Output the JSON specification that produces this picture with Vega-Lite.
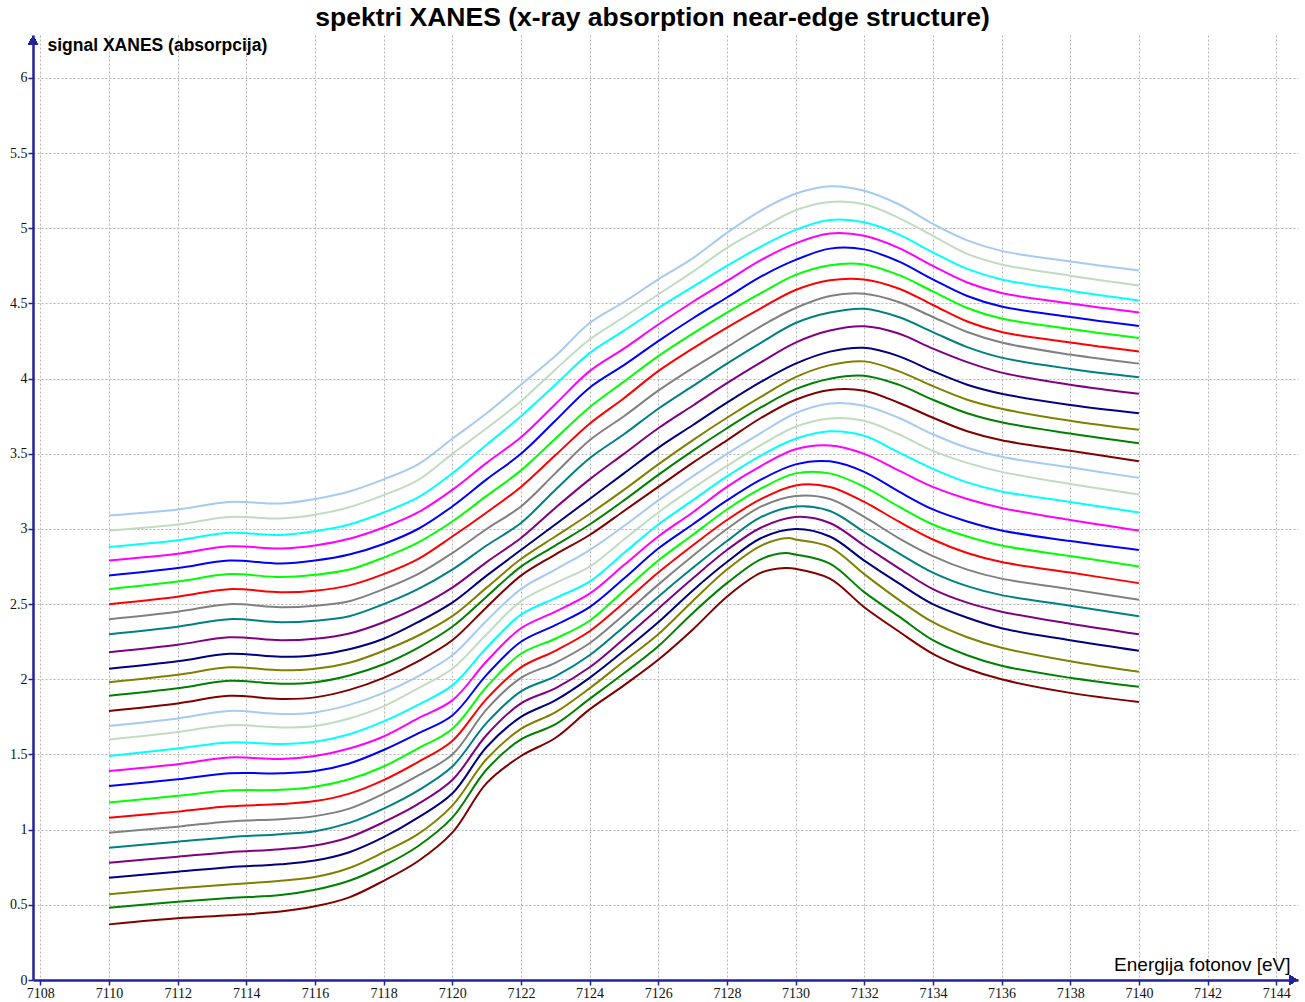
{
"$schema": "https://vega.github.io/schema/vega-lite/v6.json",
"width": 1265, "height": 945,
"autosize": {"type": "none"},
"padding": {"left": 33, "top": 35, "right": 7, "bottom": 22},
"background": "white",
"title": {"text": "spektri XANES (x-ray absorption near-edge structure)", "font": "Liberation Sans", "fontSize": 26.5, "fontWeight": "bold", "color": "black", "anchor": "middle", "frame": "group", "baseline": "alphabetic", "offset": 8, "dx": -13, "dy": 25},
"config": {"view": {"stroke": null}},
"data": {"values": [
{"k":0,"e":7110,"v":0.37},{"k":0,"e":7112,"v":0.41},{"k":0,"e":7113.5,"v":0.43},{"k":0,"e":7115,"v":0.455},{"k":0,"e":7116,"v":0.49},{"k":0,"e":7117,"v":0.55},{"k":0,"e":7118,"v":0.66},{"k":0,"e":7119,"v":0.79},{"k":0,"e":7120,"v":0.98},{"k":0,"e":7121,"v":1.31},{"k":0,"e":7122,"v":1.49},{"k":0,"e":7123,"v":1.61},{"k":0,"e":7124,"v":1.8},{"k":0,"e":7125,"v":1.96},{"k":0,"e":7126,"v":2.13},{"k":0,"e":7127,"v":2.33},{"k":0,"e":7128,"v":2.55},{"k":0,"e":7129,"v":2.71},{"k":0,"e":7129.7,"v":2.74},{"k":0,"e":7130,"v":2.735},{"k":0,"e":7131,"v":2.67},{"k":0,"e":7132,"v":2.48},{"k":0,"e":7133,"v":2.32},{"k":0,"e":7134,"v":2.17},{"k":0,"e":7135,"v":2.07},{"k":0,"e":7136,"v":2.0},{"k":0,"e":7138,"v":1.91},{"k":0,"e":7140,"v":1.85},
{"k":1,"e":7110,"v":0.48},{"k":1,"e":7112,"v":0.52},{"k":1,"e":7113.5,"v":0.545},{"k":1,"e":7115,"v":0.565},{"k":1,"e":7116,"v":0.6},{"k":1,"e":7117,"v":0.66},{"k":1,"e":7118,"v":0.76},{"k":1,"e":7119,"v":0.89},{"k":1,"e":7120,"v":1.08},{"k":1,"e":7121,"v":1.4},{"k":1,"e":7122,"v":1.6},{"k":1,"e":7123,"v":1.7},{"k":1,"e":7124,"v":1.87},{"k":1,"e":7125,"v":2.04},{"k":1,"e":7126,"v":2.22},{"k":1,"e":7127,"v":2.44},{"k":1,"e":7128,"v":2.64},{"k":1,"e":7129,"v":2.8},{"k":1,"e":7129.7,"v":2.84},{"k":1,"e":7130,"v":2.83},{"k":1,"e":7131,"v":2.77},{"k":1,"e":7132,"v":2.58},{"k":1,"e":7133,"v":2.42},{"k":1,"e":7134,"v":2.26},{"k":1,"e":7135,"v":2.16},{"k":1,"e":7136,"v":2.09},{"k":1,"e":7138,"v":2.01},{"k":1,"e":7140,"v":1.95},
{"k":2,"e":7110,"v":0.57},{"k":2,"e":7112,"v":0.61},{"k":2,"e":7113.5,"v":0.635},{"k":2,"e":7115,"v":0.66},{"k":2,"e":7116,"v":0.685},{"k":2,"e":7117,"v":0.745},{"k":2,"e":7118,"v":0.85},{"k":2,"e":7119,"v":0.97},{"k":2,"e":7120,"v":1.16},{"k":2,"e":7121,"v":1.47},{"k":2,"e":7122,"v":1.67},{"k":2,"e":7123,"v":1.78},{"k":2,"e":7124,"v":1.94},{"k":2,"e":7125,"v":2.12},{"k":2,"e":7126,"v":2.3},{"k":2,"e":7127,"v":2.52},{"k":2,"e":7128,"v":2.73},{"k":2,"e":7129,"v":2.89},{"k":2,"e":7129.8,"v":2.94},{"k":2,"e":7130,"v":2.93},{"k":2,"e":7131,"v":2.88},{"k":2,"e":7132,"v":2.7},{"k":2,"e":7133,"v":2.53},{"k":2,"e":7134,"v":2.38},{"k":2,"e":7135,"v":2.28},{"k":2,"e":7136,"v":2.21},{"k":2,"e":7138,"v":2.12},{"k":2,"e":7140,"v":2.05},
{"k":3,"e":7110,"v":0.68},{"k":3,"e":7112,"v":0.72},{"k":3,"e":7113.5,"v":0.75},{"k":3,"e":7115,"v":0.77},{"k":3,"e":7116,"v":0.795},{"k":3,"e":7117,"v":0.85},{"k":3,"e":7118,"v":0.95},{"k":3,"e":7119,"v":1.08},{"k":3,"e":7120,"v":1.24},{"k":3,"e":7121,"v":1.55},{"k":3,"e":7122,"v":1.75},{"k":3,"e":7123,"v":1.86},{"k":3,"e":7124,"v":2.01},{"k":3,"e":7125,"v":2.19},{"k":3,"e":7126,"v":2.38},{"k":3,"e":7127,"v":2.59},{"k":3,"e":7128,"v":2.78},{"k":3,"e":7129,"v":2.94},{"k":3,"e":7130,"v":3.0},{"k":3,"e":7131,"v":2.95},{"k":3,"e":7132,"v":2.79},{"k":3,"e":7133,"v":2.64},{"k":3,"e":7134,"v":2.5},{"k":3,"e":7135,"v":2.41},{"k":3,"e":7136,"v":2.34},{"k":3,"e":7138,"v":2.26},{"k":3,"e":7140,"v":2.19},
{"k":4,"e":7110,"v":0.78},{"k":4,"e":7112,"v":0.82},{"k":4,"e":7113.5,"v":0.85},{"k":4,"e":7115,"v":0.87},{"k":4,"e":7116,"v":0.895},{"k":4,"e":7117,"v":0.95},{"k":4,"e":7118,"v":1.05},{"k":4,"e":7119,"v":1.17},{"k":4,"e":7120,"v":1.33},{"k":4,"e":7121,"v":1.63},{"k":4,"e":7122,"v":1.84},{"k":4,"e":7123,"v":1.94},{"k":4,"e":7124,"v":2.08},{"k":4,"e":7125,"v":2.27},{"k":4,"e":7126,"v":2.47},{"k":4,"e":7127,"v":2.67},{"k":4,"e":7128,"v":2.86},{"k":4,"e":7129,"v":3.01},{"k":4,"e":7130,"v":3.08},{"k":4,"e":7131,"v":3.04},{"k":4,"e":7132,"v":2.89},{"k":4,"e":7133,"v":2.74},{"k":4,"e":7134,"v":2.6},{"k":4,"e":7135,"v":2.51},{"k":4,"e":7136,"v":2.45},{"k":4,"e":7138,"v":2.37},{"k":4,"e":7140,"v":2.3},
{"k":5,"e":7110,"v":0.88},{"k":5,"e":7112,"v":0.92},{"k":5,"e":7113.5,"v":0.95},{"k":5,"e":7115,"v":0.97},{"k":5,"e":7116,"v":0.99},{"k":5,"e":7117,"v":1.045},{"k":5,"e":7118,"v":1.14},{"k":5,"e":7119,"v":1.26},{"k":5,"e":7120,"v":1.42},{"k":5,"e":7121,"v":1.71},{"k":5,"e":7122,"v":1.92},{"k":5,"e":7123,"v":2.02},{"k":5,"e":7124,"v":2.16},{"k":5,"e":7125,"v":2.35},{"k":5,"e":7126,"v":2.55},{"k":5,"e":7127,"v":2.74},{"k":5,"e":7128,"v":2.92},{"k":5,"e":7129,"v":3.08},{"k":5,"e":7130,"v":3.15},{"k":5,"e":7131,"v":3.12},{"k":5,"e":7132,"v":2.98},{"k":5,"e":7133,"v":2.84},{"k":5,"e":7134,"v":2.71},{"k":5,"e":7135,"v":2.62},{"k":5,"e":7136,"v":2.56},{"k":5,"e":7138,"v":2.49},{"k":5,"e":7140,"v":2.42},
{"k":6,"e":7110,"v":0.98},{"k":6,"e":7112,"v":1.02},{"k":6,"e":7113.5,"v":1.055},{"k":6,"e":7115,"v":1.07},{"k":6,"e":7116,"v":1.09},{"k":6,"e":7117,"v":1.14},{"k":6,"e":7118,"v":1.24},{"k":6,"e":7119,"v":1.36},{"k":6,"e":7120,"v":1.5},{"k":6,"e":7121,"v":1.8},{"k":6,"e":7122,"v":2.01},{"k":6,"e":7123,"v":2.11},{"k":6,"e":7124,"v":2.24},{"k":6,"e":7125,"v":2.43},{"k":6,"e":7126,"v":2.63},{"k":6,"e":7127,"v":2.82},{"k":6,"e":7128,"v":3.0},{"k":6,"e":7129,"v":3.15},{"k":6,"e":7130,"v":3.22},{"k":6,"e":7131,"v":3.2},{"k":6,"e":7132,"v":3.08},{"k":6,"e":7133,"v":2.94},{"k":6,"e":7134,"v":2.82},{"k":6,"e":7135,"v":2.73},{"k":6,"e":7136,"v":2.67},{"k":6,"e":7138,"v":2.6},{"k":6,"e":7140,"v":2.53},
{"k":7,"e":7110,"v":1.08},{"k":7,"e":7112,"v":1.12},{"k":7,"e":7113.5,"v":1.155},{"k":7,"e":7115,"v":1.17},{"k":7,"e":7116,"v":1.19},{"k":7,"e":7117,"v":1.24},{"k":7,"e":7118,"v":1.33},{"k":7,"e":7119,"v":1.45},{"k":7,"e":7120,"v":1.59},{"k":7,"e":7121,"v":1.87},{"k":7,"e":7122,"v":2.08},{"k":7,"e":7123,"v":2.19},{"k":7,"e":7124,"v":2.32},{"k":7,"e":7125,"v":2.51},{"k":7,"e":7126,"v":2.71},{"k":7,"e":7127,"v":2.89},{"k":7,"e":7128,"v":3.06},{"k":7,"e":7129,"v":3.2},{"k":7,"e":7130,"v":3.29},{"k":7,"e":7131,"v":3.28},{"k":7,"e":7132,"v":3.18},{"k":7,"e":7133,"v":3.05},{"k":7,"e":7134,"v":2.93},{"k":7,"e":7135,"v":2.84},{"k":7,"e":7136,"v":2.78},{"k":7,"e":7138,"v":2.71},{"k":7,"e":7140,"v":2.64},
{"k":8,"e":7110,"v":1.18},{"k":8,"e":7112,"v":1.225},{"k":8,"e":7113.5,"v":1.26},{"k":8,"e":7115,"v":1.265},{"k":8,"e":7116,"v":1.285},{"k":8,"e":7117,"v":1.335},{"k":8,"e":7118,"v":1.42},{"k":8,"e":7119,"v":1.54},{"k":8,"e":7120,"v":1.67},{"k":8,"e":7121,"v":1.95},{"k":8,"e":7122,"v":2.17},{"k":8,"e":7123,"v":2.27},{"k":8,"e":7124,"v":2.39},{"k":8,"e":7125,"v":2.59},{"k":8,"e":7126,"v":2.79},{"k":8,"e":7127,"v":2.96},{"k":8,"e":7128,"v":3.13},{"k":8,"e":7129,"v":3.27},{"k":8,"e":7130,"v":3.37},{"k":8,"e":7131,"v":3.37},{"k":8,"e":7132,"v":3.28},{"k":8,"e":7133,"v":3.15},{"k":8,"e":7134,"v":3.03},{"k":8,"e":7135,"v":2.95},{"k":8,"e":7136,"v":2.89},{"k":8,"e":7138,"v":2.82},{"k":8,"e":7140,"v":2.75},
{"k":9,"e":7110,"v":1.29},{"k":9,"e":7112,"v":1.335},{"k":9,"e":7113.5,"v":1.375},{"k":9,"e":7115,"v":1.375},{"k":9,"e":7116,"v":1.39},{"k":9,"e":7117,"v":1.44},{"k":9,"e":7118,"v":1.53},{"k":9,"e":7119,"v":1.64},{"k":9,"e":7120,"v":1.76},{"k":9,"e":7121,"v":2.03},{"k":9,"e":7122,"v":2.25},{"k":9,"e":7123,"v":2.36},{"k":9,"e":7124,"v":2.48},{"k":9,"e":7125,"v":2.67},{"k":9,"e":7126,"v":2.87},{"k":9,"e":7127,"v":3.03},{"k":9,"e":7128,"v":3.19},{"k":9,"e":7129,"v":3.33},{"k":9,"e":7130,"v":3.43},{"k":9,"e":7131,"v":3.45},{"k":9,"e":7132,"v":3.38},{"k":9,"e":7133,"v":3.25},{"k":9,"e":7134,"v":3.13},{"k":9,"e":7135,"v":3.05},{"k":9,"e":7136,"v":2.99},{"k":9,"e":7138,"v":2.92},{"k":9,"e":7140,"v":2.86},
{"k":10,"e":7110,"v":1.39},{"k":10,"e":7112,"v":1.435},{"k":10,"e":7113.5,"v":1.48},{"k":10,"e":7115,"v":1.47},{"k":10,"e":7116,"v":1.49},{"k":10,"e":7117,"v":1.54},{"k":10,"e":7118,"v":1.62},{"k":10,"e":7119,"v":1.74},{"k":10,"e":7120,"v":1.86},{"k":10,"e":7121,"v":2.12},{"k":10,"e":7122,"v":2.34},{"k":10,"e":7123,"v":2.45},{"k":10,"e":7124,"v":2.57},{"k":10,"e":7125,"v":2.76},{"k":10,"e":7126,"v":2.95},{"k":10,"e":7127,"v":3.11},{"k":10,"e":7128,"v":3.28},{"k":10,"e":7129,"v":3.42},{"k":10,"e":7130,"v":3.53},{"k":10,"e":7131,"v":3.555},{"k":10,"e":7132,"v":3.5},{"k":10,"e":7133,"v":3.39},{"k":10,"e":7134,"v":3.28},{"k":10,"e":7135,"v":3.2},{"k":10,"e":7136,"v":3.14},{"k":10,"e":7138,"v":3.06},{"k":10,"e":7140,"v":2.99},
{"k":11,"e":7110,"v":1.49},{"k":11,"e":7112,"v":1.54},{"k":11,"e":7113.5,"v":1.58},{"k":11,"e":7115,"v":1.57},{"k":11,"e":7116,"v":1.585},{"k":11,"e":7117,"v":1.635},{"k":11,"e":7118,"v":1.72},{"k":11,"e":7119,"v":1.83},{"k":11,"e":7120,"v":1.96},{"k":11,"e":7121,"v":2.21},{"k":11,"e":7122,"v":2.43},{"k":11,"e":7123,"v":2.54},{"k":11,"e":7124,"v":2.65},{"k":11,"e":7125,"v":2.84},{"k":11,"e":7126,"v":3.03},{"k":11,"e":7127,"v":3.19},{"k":11,"e":7128,"v":3.35},{"k":11,"e":7129,"v":3.49},{"k":11,"e":7130,"v":3.6},{"k":11,"e":7131,"v":3.65},{"k":11,"e":7132,"v":3.62},{"k":11,"e":7133,"v":3.51},{"k":11,"e":7134,"v":3.4},{"k":11,"e":7135,"v":3.31},{"k":11,"e":7136,"v":3.25},{"k":11,"e":7138,"v":3.18},{"k":11,"e":7140,"v":3.11},
{"k":12,"e":7110,"v":1.6},{"k":12,"e":7112,"v":1.65},{"k":12,"e":7113.5,"v":1.695},{"k":12,"e":7115,"v":1.68},{"k":12,"e":7116,"v":1.69},{"k":12,"e":7117,"v":1.74},{"k":12,"e":7118,"v":1.82},{"k":12,"e":7119,"v":1.94},{"k":12,"e":7120,"v":2.07},{"k":12,"e":7121,"v":2.3},{"k":12,"e":7122,"v":2.52},{"k":12,"e":7123,"v":2.64},{"k":12,"e":7124,"v":2.75},{"k":12,"e":7125,"v":2.93},{"k":12,"e":7126,"v":3.11},{"k":12,"e":7127,"v":3.27},{"k":12,"e":7128,"v":3.42},{"k":12,"e":7129,"v":3.56},{"k":12,"e":7130,"v":3.68},{"k":12,"e":7131,"v":3.735},{"k":12,"e":7132,"v":3.72},{"k":12,"e":7133,"v":3.63},{"k":12,"e":7134,"v":3.52},{"k":12,"e":7135,"v":3.44},{"k":12,"e":7136,"v":3.38},{"k":12,"e":7138,"v":3.3},{"k":12,"e":7140,"v":3.23},
{"k":13,"e":7110,"v":1.69},{"k":13,"e":7112,"v":1.74},{"k":13,"e":7113.5,"v":1.79},{"k":13,"e":7115,"v":1.77},{"k":13,"e":7116,"v":1.78},{"k":13,"e":7117,"v":1.83},{"k":13,"e":7118,"v":1.91},{"k":13,"e":7119,"v":2.02},{"k":13,"e":7120,"v":2.16},{"k":13,"e":7121,"v":2.39},{"k":13,"e":7122,"v":2.6},{"k":13,"e":7123,"v":2.73},{"k":13,"e":7124,"v":2.86},{"k":13,"e":7125,"v":3.02},{"k":13,"e":7126,"v":3.19},{"k":13,"e":7127,"v":3.35},{"k":13,"e":7128,"v":3.5},{"k":13,"e":7129,"v":3.64},{"k":13,"e":7130,"v":3.77},{"k":13,"e":7131,"v":3.835},{"k":13,"e":7132,"v":3.82},{"k":13,"e":7133,"v":3.74},{"k":13,"e":7134,"v":3.63},{"k":13,"e":7135,"v":3.54},{"k":13,"e":7136,"v":3.48},{"k":13,"e":7138,"v":3.41},{"k":13,"e":7140,"v":3.34},
{"k":14,"e":7110,"v":1.79},{"k":14,"e":7112,"v":1.84},{"k":14,"e":7113.5,"v":1.89},{"k":14,"e":7115,"v":1.87},{"k":14,"e":7116,"v":1.88},{"k":14,"e":7117,"v":1.93},{"k":14,"e":7118,"v":2.01},{"k":14,"e":7119,"v":2.12},{"k":14,"e":7120,"v":2.26},{"k":14,"e":7121,"v":2.48},{"k":14,"e":7122,"v":2.69},{"k":14,"e":7123,"v":2.83},{"k":14,"e":7124,"v":2.96},{"k":14,"e":7125,"v":3.12},{"k":14,"e":7126,"v":3.28},{"k":14,"e":7127,"v":3.44},{"k":14,"e":7128,"v":3.59},{"k":14,"e":7129,"v":3.74},{"k":14,"e":7130,"v":3.86},{"k":14,"e":7131,"v":3.925},{"k":14,"e":7132,"v":3.92},{"k":14,"e":7133,"v":3.84},{"k":14,"e":7134,"v":3.74},{"k":14,"e":7135,"v":3.65},{"k":14,"e":7136,"v":3.59},{"k":14,"e":7138,"v":3.52},{"k":14,"e":7140,"v":3.45},
{"k":15,"e":7110,"v":1.89},{"k":15,"e":7112,"v":1.94},{"k":15,"e":7113.5,"v":1.99},{"k":15,"e":7115,"v":1.97},{"k":15,"e":7116,"v":1.98},{"k":15,"e":7117,"v":2.025},{"k":15,"e":7118,"v":2.1},{"k":15,"e":7119,"v":2.21},{"k":15,"e":7120,"v":2.35},{"k":15,"e":7121,"v":2.55},{"k":15,"e":7122,"v":2.75},{"k":15,"e":7123,"v":2.89},{"k":15,"e":7124,"v":3.03},{"k":15,"e":7125,"v":3.19},{"k":15,"e":7126,"v":3.36},{"k":15,"e":7127,"v":3.52},{"k":15,"e":7128,"v":3.67},{"k":15,"e":7129,"v":3.81},{"k":15,"e":7130,"v":3.93},{"k":15,"e":7131,"v":4.0},{"k":15,"e":7132,"v":4.02},{"k":15,"e":7133,"v":3.96},{"k":15,"e":7134,"v":3.86},{"k":15,"e":7135,"v":3.77},{"k":15,"e":7136,"v":3.71},{"k":15,"e":7138,"v":3.635},{"k":15,"e":7140,"v":3.57},
{"k":16,"e":7110,"v":1.98},{"k":16,"e":7112,"v":2.03},{"k":16,"e":7113.5,"v":2.08},{"k":16,"e":7115,"v":2.06},{"k":16,"e":7116,"v":2.07},{"k":16,"e":7117,"v":2.11},{"k":16,"e":7118,"v":2.19},{"k":16,"e":7119,"v":2.29},{"k":16,"e":7120,"v":2.42},{"k":16,"e":7121,"v":2.61},{"k":16,"e":7122,"v":2.8},{"k":16,"e":7123,"v":2.95},{"k":16,"e":7124,"v":3.1},{"k":16,"e":7125,"v":3.26},{"k":16,"e":7126,"v":3.43},{"k":16,"e":7127,"v":3.59},{"k":16,"e":7128,"v":3.74},{"k":16,"e":7129,"v":3.88},{"k":16,"e":7130,"v":4.01},{"k":16,"e":7131,"v":4.09},{"k":16,"e":7132,"v":4.115},{"k":16,"e":7133,"v":4.05},{"k":16,"e":7134,"v":3.95},{"k":16,"e":7135,"v":3.86},{"k":16,"e":7136,"v":3.8},{"k":16,"e":7138,"v":3.72},{"k":16,"e":7140,"v":3.66},
{"k":17,"e":7110,"v":2.07},{"k":17,"e":7112,"v":2.12},{"k":17,"e":7113.5,"v":2.17},{"k":17,"e":7115,"v":2.15},{"k":17,"e":7116,"v":2.16},{"k":17,"e":7117,"v":2.2},{"k":17,"e":7118,"v":2.27},{"k":17,"e":7119,"v":2.38},{"k":17,"e":7120,"v":2.51},{"k":17,"e":7121,"v":2.69},{"k":17,"e":7122,"v":2.86},{"k":17,"e":7123,"v":3.03},{"k":17,"e":7124,"v":3.2},{"k":17,"e":7125,"v":3.37},{"k":17,"e":7126,"v":3.54},{"k":17,"e":7127,"v":3.69},{"k":17,"e":7128,"v":3.84},{"k":17,"e":7129,"v":3.98},{"k":17,"e":7130,"v":4.1},{"k":17,"e":7131,"v":4.18},{"k":17,"e":7132,"v":4.205},{"k":17,"e":7133,"v":4.15},{"k":17,"e":7134,"v":4.05},{"k":17,"e":7135,"v":3.96},{"k":17,"e":7136,"v":3.9},{"k":17,"e":7138,"v":3.825},{"k":17,"e":7140,"v":3.77},
{"k":18,"e":7110,"v":2.18},{"k":18,"e":7112,"v":2.23},{"k":18,"e":7113.5,"v":2.28},{"k":18,"e":7115,"v":2.26},{"k":18,"e":7116,"v":2.27},{"k":18,"e":7117,"v":2.305},{"k":18,"e":7118,"v":2.38},{"k":18,"e":7119,"v":2.48},{"k":18,"e":7120,"v":2.61},{"k":18,"e":7121,"v":2.78},{"k":18,"e":7122,"v":2.94},{"k":18,"e":7123,"v":3.14},{"k":18,"e":7124,"v":3.33},{"k":18,"e":7125,"v":3.5},{"k":18,"e":7126,"v":3.67},{"k":18,"e":7127,"v":3.82},{"k":18,"e":7128,"v":3.97},{"k":18,"e":7129,"v":4.11},{"k":18,"e":7130,"v":4.24},{"k":18,"e":7131,"v":4.32},{"k":18,"e":7132,"v":4.348},{"k":18,"e":7133,"v":4.3},{"k":18,"e":7134,"v":4.2},{"k":18,"e":7135,"v":4.11},{"k":18,"e":7136,"v":4.04},{"k":18,"e":7138,"v":3.96},{"k":18,"e":7140,"v":3.9},
{"k":19,"e":7110,"v":2.3},{"k":19,"e":7112,"v":2.35},{"k":19,"e":7113.5,"v":2.4},{"k":19,"e":7115,"v":2.38},{"k":19,"e":7116,"v":2.39},{"k":19,"e":7117,"v":2.42},{"k":19,"e":7118,"v":2.5},{"k":19,"e":7119,"v":2.6},{"k":19,"e":7120,"v":2.73},{"k":19,"e":7121,"v":2.89},{"k":19,"e":7122,"v":3.04},{"k":19,"e":7123,"v":3.26},{"k":19,"e":7124,"v":3.47},{"k":19,"e":7125,"v":3.63},{"k":19,"e":7126,"v":3.8},{"k":19,"e":7127,"v":3.95},{"k":19,"e":7128,"v":4.1},{"k":19,"e":7129,"v":4.24},{"k":19,"e":7130,"v":4.37},{"k":19,"e":7131,"v":4.44},{"k":19,"e":7132,"v":4.465},{"k":19,"e":7133,"v":4.41},{"k":19,"e":7134,"v":4.31},{"k":19,"e":7135,"v":4.21},{"k":19,"e":7136,"v":4.14},{"k":19,"e":7138,"v":4.065},{"k":19,"e":7140,"v":4.01},
{"k":20,"e":7110,"v":2.4},{"k":20,"e":7112,"v":2.45},{"k":20,"e":7113.5,"v":2.5},{"k":20,"e":7115,"v":2.48},{"k":20,"e":7116,"v":2.49},{"k":20,"e":7117,"v":2.52},{"k":20,"e":7118,"v":2.6},{"k":20,"e":7119,"v":2.7},{"k":20,"e":7120,"v":2.84},{"k":20,"e":7121,"v":3.0},{"k":20,"e":7122,"v":3.15},{"k":20,"e":7123,"v":3.37},{"k":20,"e":7124,"v":3.59},{"k":20,"e":7125,"v":3.75},{"k":20,"e":7126,"v":3.92},{"k":20,"e":7127,"v":4.07},{"k":20,"e":7128,"v":4.21},{"k":20,"e":7129,"v":4.35},{"k":20,"e":7130,"v":4.47},{"k":20,"e":7131,"v":4.55},{"k":20,"e":7132,"v":4.565},{"k":20,"e":7133,"v":4.51},{"k":20,"e":7134,"v":4.41},{"k":20,"e":7135,"v":4.31},{"k":20,"e":7136,"v":4.24},{"k":20,"e":7138,"v":4.16},{"k":20,"e":7140,"v":4.1},
{"k":21,"e":7110,"v":2.5},{"k":21,"e":7112,"v":2.55},{"k":21,"e":7113.5,"v":2.6},{"k":21,"e":7115,"v":2.58},{"k":21,"e":7116,"v":2.59},{"k":21,"e":7117,"v":2.625},{"k":21,"e":7118,"v":2.7},{"k":21,"e":7119,"v":2.8},{"k":21,"e":7120,"v":2.95},{"k":21,"e":7121,"v":3.11},{"k":21,"e":7122,"v":3.28},{"k":21,"e":7123,"v":3.49},{"k":21,"e":7124,"v":3.7},{"k":21,"e":7125,"v":3.87},{"k":21,"e":7126,"v":4.05},{"k":21,"e":7127,"v":4.2},{"k":21,"e":7128,"v":4.34},{"k":21,"e":7129,"v":4.47},{"k":21,"e":7130,"v":4.59},{"k":21,"e":7131,"v":4.655},{"k":21,"e":7132,"v":4.66},{"k":21,"e":7133,"v":4.6},{"k":21,"e":7134,"v":4.49},{"k":21,"e":7135,"v":4.38},{"k":21,"e":7136,"v":4.31},{"k":21,"e":7138,"v":4.24},{"k":21,"e":7140,"v":4.18},
{"k":22,"e":7110,"v":2.6},{"k":22,"e":7112,"v":2.65},{"k":22,"e":7113.5,"v":2.7},{"k":22,"e":7115,"v":2.68},{"k":22,"e":7116,"v":2.695},{"k":22,"e":7117,"v":2.73},{"k":22,"e":7118,"v":2.81},{"k":22,"e":7119,"v":2.91},{"k":22,"e":7120,"v":3.05},{"k":22,"e":7121,"v":3.22},{"k":22,"e":7122,"v":3.39},{"k":22,"e":7123,"v":3.6},{"k":22,"e":7124,"v":3.81},{"k":22,"e":7125,"v":3.98},{"k":22,"e":7126,"v":4.15},{"k":22,"e":7127,"v":4.3},{"k":22,"e":7128,"v":4.44},{"k":22,"e":7129,"v":4.57},{"k":22,"e":7130,"v":4.69},{"k":22,"e":7131,"v":4.755},{"k":22,"e":7132,"v":4.76},{"k":22,"e":7133,"v":4.69},{"k":22,"e":7134,"v":4.58},{"k":22,"e":7135,"v":4.47},{"k":22,"e":7136,"v":4.4},{"k":22,"e":7138,"v":4.33},{"k":22,"e":7140,"v":4.27},
{"k":23,"e":7110,"v":2.69},{"k":23,"e":7112,"v":2.74},{"k":23,"e":7113.5,"v":2.79},{"k":23,"e":7115,"v":2.77},{"k":23,"e":7116,"v":2.79},{"k":23,"e":7117,"v":2.83},{"k":23,"e":7118,"v":2.9},{"k":23,"e":7119,"v":3.0},{"k":23,"e":7120,"v":3.15},{"k":23,"e":7121,"v":3.33},{"k":23,"e":7122,"v":3.5},{"k":23,"e":7123,"v":3.72},{"k":23,"e":7124,"v":3.94},{"k":23,"e":7125,"v":4.09},{"k":23,"e":7126,"v":4.25},{"k":23,"e":7127,"v":4.4},{"k":23,"e":7128,"v":4.54},{"k":23,"e":7129,"v":4.68},{"k":23,"e":7130,"v":4.79},{"k":23,"e":7131,"v":4.865},{"k":23,"e":7132,"v":4.86},{"k":23,"e":7133,"v":4.78},{"k":23,"e":7134,"v":4.66},{"k":23,"e":7135,"v":4.55},{"k":23,"e":7136,"v":4.48},{"k":23,"e":7138,"v":4.41},{"k":23,"e":7140,"v":4.35},
{"k":24,"e":7110,"v":2.79},{"k":24,"e":7112,"v":2.835},{"k":24,"e":7113.5,"v":2.885},{"k":24,"e":7115,"v":2.87},{"k":24,"e":7116,"v":2.89},{"k":24,"e":7117,"v":2.935},{"k":24,"e":7118,"v":3.01},{"k":24,"e":7119,"v":3.11},{"k":24,"e":7120,"v":3.26},{"k":24,"e":7121,"v":3.44},{"k":24,"e":7122,"v":3.61},{"k":24,"e":7123,"v":3.83},{"k":24,"e":7124,"v":4.05},{"k":24,"e":7125,"v":4.2},{"k":24,"e":7126,"v":4.36},{"k":24,"e":7127,"v":4.51},{"k":24,"e":7128,"v":4.65},{"k":24,"e":7129,"v":4.79},{"k":24,"e":7130,"v":4.9},{"k":24,"e":7131,"v":4.965},{"k":24,"e":7132,"v":4.95},{"k":24,"e":7133,"v":4.87},{"k":24,"e":7134,"v":4.75},{"k":24,"e":7135,"v":4.64},{"k":24,"e":7136,"v":4.57},{"k":24,"e":7138,"v":4.5},{"k":24,"e":7140,"v":4.44},
{"k":25,"e":7110,"v":2.88},{"k":25,"e":7112,"v":2.925},{"k":25,"e":7113.5,"v":2.975},{"k":25,"e":7115,"v":2.96},{"k":25,"e":7116,"v":2.985},{"k":25,"e":7117,"v":3.03},{"k":25,"e":7118,"v":3.11},{"k":25,"e":7119,"v":3.21},{"k":25,"e":7120,"v":3.37},{"k":25,"e":7121,"v":3.56},{"k":25,"e":7122,"v":3.75},{"k":25,"e":7123,"v":3.96},{"k":25,"e":7124,"v":4.17},{"k":25,"e":7125,"v":4.32},{"k":25,"e":7126,"v":4.47},{"k":25,"e":7127,"v":4.61},{"k":25,"e":7128,"v":4.75},{"k":25,"e":7129,"v":4.88},{"k":25,"e":7130,"v":4.99},{"k":25,"e":7131,"v":5.055},{"k":25,"e":7132,"v":5.04},{"k":25,"e":7133,"v":4.96},{"k":25,"e":7134,"v":4.84},{"k":25,"e":7135,"v":4.73},{"k":25,"e":7136,"v":4.66},{"k":25,"e":7138,"v":4.585},{"k":25,"e":7140,"v":4.52},
{"k":26,"e":7110,"v":2.99},{"k":26,"e":7112,"v":3.03},{"k":26,"e":7113.5,"v":3.08},{"k":26,"e":7115,"v":3.07},{"k":26,"e":7116,"v":3.095},{"k":26,"e":7117,"v":3.145},{"k":26,"e":7118,"v":3.225},{"k":26,"e":7119,"v":3.325},{"k":26,"e":7120,"v":3.5},{"k":26,"e":7121,"v":3.67},{"k":26,"e":7122,"v":3.85},{"k":26,"e":7123,"v":4.06},{"k":26,"e":7124,"v":4.26},{"k":26,"e":7125,"v":4.41},{"k":26,"e":7126,"v":4.56},{"k":26,"e":7127,"v":4.71},{"k":26,"e":7128,"v":4.87},{"k":26,"e":7129,"v":5.0},{"k":26,"e":7130,"v":5.12},{"k":26,"e":7131,"v":5.175},{"k":26,"e":7132,"v":5.16},{"k":26,"e":7133,"v":5.07},{"k":26,"e":7134,"v":4.95},{"k":26,"e":7135,"v":4.83},{"k":26,"e":7136,"v":4.76},{"k":26,"e":7138,"v":4.685},{"k":26,"e":7140,"v":4.62},
{"k":27,"e":7110,"v":3.09},{"k":27,"e":7112,"v":3.13},{"k":27,"e":7113.5,"v":3.18},{"k":27,"e":7115,"v":3.17},{"k":27,"e":7116,"v":3.2},{"k":27,"e":7117,"v":3.25},{"k":27,"e":7118,"v":3.33},{"k":27,"e":7119,"v":3.43},{"k":27,"e":7120,"v":3.6},{"k":27,"e":7121,"v":3.77},{"k":27,"e":7122,"v":3.96},{"k":27,"e":7123,"v":4.15},{"k":27,"e":7124,"v":4.37},{"k":27,"e":7125,"v":4.51},{"k":27,"e":7126,"v":4.66},{"k":27,"e":7127,"v":4.8},{"k":27,"e":7128,"v":4.97},{"k":27,"e":7129,"v":5.12},{"k":27,"e":7130,"v":5.23},{"k":27,"e":7131,"v":5.28},{"k":27,"e":7132,"v":5.25},{"k":27,"e":7133,"v":5.16},{"k":27,"e":7134,"v":5.03},{"k":27,"e":7135,"v":4.92},{"k":27,"e":7136,"v":4.85},{"k":27,"e":7138,"v":4.78},{"k":27,"e":7140,"v":4.72}
]},
"layer": [
{"mark": {"type": "line", "interpolate": "catmull-rom", "strokeWidth": 2},
 "encoding": {
  "x": {"field": "e", "type": "quantitative",
    "scale": {"domain": [7107.787, 7144.635], "nice": false, "zero": false},
    "axis": {"values": [7108,7110,7112,7114,7116,7118,7120,7122,7124,7126,7128,7130,7132,7134,7136,7138,7140,7142,7144],
      "format": "d", "labelFont": "Liberation Serif", "labelFontSize": 14, "labelColor": "#111111", "labelPadding": 1, "labelFlush": false, "labelOverlap": false,
      "tickSize": 5, "tickColor": "#22229a", "tickWidth": 1.5,
      "domainColor": "#22229a", "domainWidth": 2.5,
      "grid": true, "gridColor": "#b4b4b4", "gridDash": [2, 2], "gridWidth": 1,
      "title": "Energija fotonov [eV]", "titleFont": "Liberation Sans", "titleFontSize": 19, "titleFontWeight": "normal", "titleColor": "#000000",
      "titleX": 1257, "titleY": -10, "titleAlign": "right", "titleBaseline": "alphabetic"}},
  "y": {"field": "v", "type": "quantitative",
    "scale": {"domain": [0, 6.286], "nice": false, "zero": false},
    "axis": {"values": [0,0.5,1,1.5,2,2.5,3,3.5,4,4.5,5,5.5,6],
      "labelExpr": "'' + datum.value", "labelFont": "Liberation Serif", "labelFontSize": 14, "labelColor": "#111111", "labelPadding": 1,
      "tickSize": 5, "tickColor": "#22229a", "tickWidth": 1.5,
      "domainColor": "#22229a", "domainWidth": 2.5,
      "grid": true, "gridColor": "#b4b4b4", "gridDash": [2, 2], "gridWidth": 1,
      "title": "signal XANES (absorpcija)", "titleFont": "Liberation Sans", "titleFontSize": 17.5, "titleFontWeight": "bold", "titleColor": "#000000",
      "titleAngle": 0, "titleX": 14, "titleY": 15, "titleAlign": "left", "titleBaseline": "alphabetic"}},
  "color": {"field": "k", "type": "nominal", "legend": null,
    "scale": {"domain": [0,1,2,3,4,5,6,7,8,9,10,11,12,13,14,15,16,17,18,19,20,21,22,23,24,25,26,27],
      "range": ["#800000","#008000","#808000","#000080","#800080","#008080","#808080","#FF0000","#00FF00","#0000FF","#FF00FF","#00FFFF","#C0DCC0","#A6CAF0","#800000","#008000","#808000","#000080","#800080","#008080","#808080","#FF0000","#00FF00","#0000FF","#FF00FF","#00FFFF","#C0DCC0","#A6CAF0"]}}
 }},
{"mark": {"type": "point", "shape": "triangle-up", "filled": true, "size": 90, "color": "#22229a", "opacity": 1},
 "encoding": {"x": {"datum": 7107.787, "type": "quantitative"}, "y": {"datum": 6.25, "type": "quantitative"}}},
{"mark": {"type": "point", "shape": "triangle-right", "filled": true, "size": 90, "color": "#22229a", "opacity": 1},
 "encoding": {"x": {"datum": 7144.5, "type": "quantitative"}, "y": {"datum": 0, "type": "quantitative"}}}
]
}
